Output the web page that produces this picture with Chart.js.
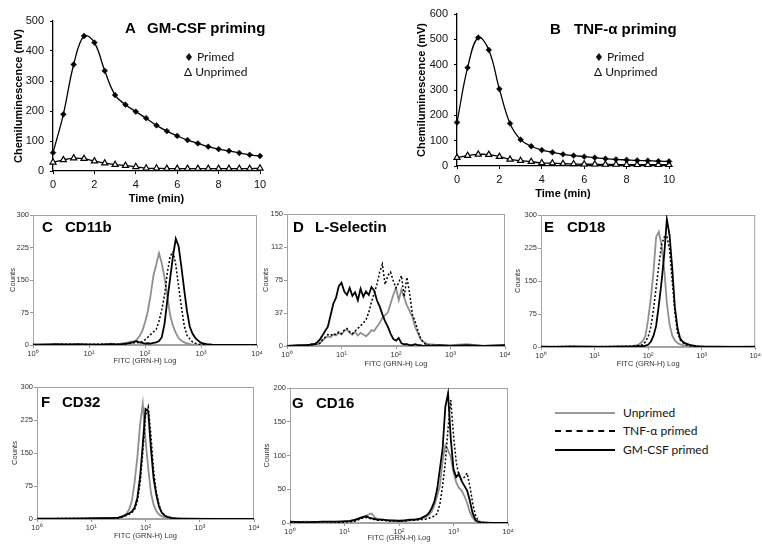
<!DOCTYPE html>
<html>
<head>
<meta charset="utf-8">
<script src="https://cdn.jsdelivr.net/npm/chart.js@4.4.0/dist/chart.umd.min.js"></script>
<style>
  body { margin: 0; background: #fff; width: 762px; height: 547px; position: relative; overflow: hidden; font-family: "Liberation Sans", Arial, sans-serif; }
  canvas { position: absolute; }
  .t { position: absolute; font-weight: bold; font-size: 15px; line-height: 1; white-space: pre; color: #000; }
  .lg { position: absolute; font-family: Lato, "Open Sans", sans-serif; font-size: 12px; line-height: 14px; white-space: pre; color: #111; }
  .lg b { font-family: "DejaVu Sans", sans-serif; font-size: 11px; font-weight: normal; }
  .ln { position: absolute; left: 555px; width: 60px; height: 0; }
</style>
</head>
<body>
<canvas id="cA"></canvas>
<canvas id="cB"></canvas>
<canvas id="cC"></canvas>
<canvas id="cD"></canvas>
<canvas id="cE"></canvas>
<canvas id="cF"></canvas>
<canvas id="cG"></canvas>

<div class="t" style="left:125px;top:20px">A</div>
<div class="t" style="left:147px;top:20px">GM-CSF priming</div>
<div class="lg" style="left:184px;top:50px"><b>♦</b> Primed</div>
<div class="lg" style="left:184px;top:65px">Δ Unprimed</div>

<div class="t" style="left:550px;top:21px">B</div>
<div class="t" style="left:574px;top:21px">TNF-α priming</div>
<div class="lg" style="left:594px;top:50px"><b>♦</b> Primed</div>
<div class="lg" style="left:594px;top:65px">Δ Unprimed</div>

<div class="t" style="left:42px;top:219px">C</div>
<div class="t" style="left:65px;top:219px">CD11b</div>
<div class="t" style="left:293px;top:219px">D</div>
<div class="t" style="left:315px;top:219px">L-Selectin</div>
<div class="t" style="left:544px;top:219px">E</div>
<div class="t" style="left:567px;top:219px">CD18</div>
<div class="t" style="left:41px;top:394px">F</div>
<div class="t" style="left:62px;top:394px">CD32</div>
<div class="t" style="left:292px;top:395px">G</div>
<div class="t" style="left:316px;top:395px">CD16</div>

<div class="ln" style="top:412px;border-top:2px solid #999"></div>
<div class="ln" style="top:430px;border-top:2px dashed #000"></div>
<div class="ln" style="top:449px;border-top:2px solid #000"></div>
<div class="lg" style="left:623px;top:406px">Unprimed</div>
<div class="lg" style="left:623px;top:424px">TNF-α primed</div>
<div class="lg" style="left:623px;top:443px">GM-CSF primed</div>

<script>
// chemiluminescence time courses (panels A, B)
const timeMin = [0, 0.5, 1, 1.5, 2, 2.5, 3, 3.5, 4, 4.5, 5, 5.5, 6, 6.5, 7, 7.5, 8, 8.5, 9, 9.5, 10];
const gmPrimed   = [61, 189, 355, 450, 428, 334, 253, 221, 198, 176, 152, 133, 117, 103, 92, 81, 73, 67, 60, 54, 50];
const gmUnprimed = [29, 37, 43, 41, 33, 26, 21, 18, 14, 9, 9, 8, 8, 8, 8, 8, 8, 8, 8, 8, 9];
const tnfPrimed   = [172, 388, 507, 458, 304, 168, 104, 78, 63, 54, 46, 41, 37, 33, 29, 26, 24, 22, 21, 19, 18];
const tnfUnprimed = [33, 41, 46, 45, 37, 26, 21, 17, 12, 11, 9, 8, 7, 7, 6, 6, 5, 5, 5, 5, 5];

// flow histograms, x given as log10 of FITC intensity
const logTicks = [1, 10, 100, 1000, 10000];
const logTickLabels = ['10⁰', '10¹', '10²', '10³', '10⁴'];

const cd11bLog = [0,0.2,0.4,0.6,0.8,1.0,1.2,1.4,1.5,1.6,1.7,1.75,1.8,1.85,1.9,1.95,2.0,2.05,2.1,2.15,2.2,2.25,2.3,2.35,2.4,2.45,2.5,2.55,2.6,2.65,2.7,2.75,2.8,2.85,2.9,2.95,3.0,3.1,3.2,3.4,3.7,4.0];
const cd11bUnprimed = [1,2,1,2,1,2,1,3,2,4,6,8,7,12,20,32,52,78,115,160,185,212,188,155,112,68,44,28,16,10,6,4,2,1,1,0,0,0,0,0,0,0];
const cd11bTnf      = [1,0,1,2,1,1,2,1,2,2,3,4,5,6,5,8,12,18,24,30,36,55,82,115,168,205,215,185,135,88,45,22,14,7,4,2,1,1,0,0,0,0];
const cd11bGm       = [1,1,2,1,2,1,1,2,1,2,4,5,7,9,6,5,3,4,3,5,6,9,18,50,105,155,205,245,228,180,128,78,42,26,16,10,5,2,1,0,0,0];

const selLog = [0,0.2,0.4,0.45,0.5,0.55,0.6,0.65,0.7,0.75,0.8,0.85,0.9,0.95,1.0,1.05,1.1,1.15,1.2,1.25,1.3,1.35,1.4,1.45,1.5,1.55,1.6,1.65,1.7,1.75,1.8,1.85,1.9,1.95,2.0,2.05,2.1,2.15,2.2,2.25,2.3,2.35,2.4,2.45,2.5,2.55,2.6,2.8,3.0,3.3,3.6,4.0];
const selUnprimed = [0,0,1,1,2,2,3,6,9,11,10,13,12,15,13,17,19,15,13,16,12,15,13,11,14,18,17,22,26,32,35,38,48,58,66,52,64,55,46,40,33,22,15,8,5,3,2,1,1,2,0,1];
const selTnf      = [0,0,1,1,2,2,3,7,10,13,12,14,13,16,14,18,20,16,14,17,20,23,26,30,38,50,60,70,84,93,70,80,84,74,66,72,80,56,78,60,36,28,18,9,4,2,1,0,0,0,0,0];
const selGm       = [0,1,1,2,2,4,7,12,17,22,35,48,55,68,72,62,58,66,57,61,52,65,56,62,58,67,63,52,45,36,28,22,14,8,6,9,3,2,2,1,1,2,1,1,0,1,0,1,0,1,0,1];

const cd18Log = [0,0.3,0.6,0.9,1.2,1.5,1.7,1.8,1.85,1.9,1.95,2.0,2.05,2.1,2.15,2.2,2.25,2.3,2.35,2.4,2.45,2.5,2.55,2.6,2.65,2.7,2.8,2.9,3.0,3.3,3.6,4.0];
const cd18Unprimed = [1,1,2,1,1,2,2,4,8,14,25,62,110,170,250,262,232,178,100,52,26,15,9,6,4,3,2,1,1,0,1,0];
const cd18Tnf      = [0,1,1,0,1,1,2,3,4,5,12,23,45,85,135,185,232,250,252,222,150,80,32,16,10,5,2,1,1,0,0,0];
const cd18Gm       = [1,0,1,1,0,1,1,2,2,2,3,5,12,25,48,95,147,209,290,255,180,90,42,19,12,8,4,2,1,1,0,1];

const cd32Log = [0,0.4,0.8,1.2,1.4,1.5,1.55,1.6,1.65,1.7,1.75,1.8,1.85,1.9,1.95,2.0,2.05,2.1,2.15,2.2,2.25,2.3,2.35,2.4,2.5,2.6,2.8,3.0,3.4,4.0];
const cd32Unprimed = [1,1,2,2,2,3,4,7,12,22,42,85,140,215,262,180,115,60,32,18,10,6,4,2,1,1,0,1,0,0];
const cd32Tnf      = [0,1,1,1,2,2,4,6,8,11,15,22,40,80,150,235,255,190,110,60,32,16,9,5,2,1,0,0,0,0];
const cd32Gm       = [1,1,1,2,2,3,5,7,10,13,17,26,48,95,170,250,245,160,92,55,28,14,8,5,2,1,1,0,0,0];

const cd16Log = [0,0.3,0.6,0.9,1.1,1.2,1.3,1.35,1.4,1.45,1.5,1.55,1.6,1.7,1.8,1.9,2.0,2.1,2.2,2.3,2.4,2.5,2.55,2.6,2.65,2.7,2.75,2.8,2.85,2.9,2.95,3.0,3.05,3.1,3.15,3.2,3.25,3.3,3.35,3.4,3.45,3.5,3.7,4.0];
const cd16Unprimed = [1,2,1,2,2,4,7,9,11,13,14,9,6,5,4,3,4,3,4,5,6,9,12,17,26,40,55,92,115,108,98,75,60,52,48,40,30,16,8,3,1,1,0,0];
const cd16Tnf      = [1,1,2,1,2,3,6,8,8,7,6,5,4,4,3,3,3,3,4,4,5,6,7,9,10,14,28,55,90,140,182,130,90,70,64,68,74,55,30,12,4,1,0,0];
const cd16Gm       = [2,1,2,2,3,5,8,9,10,8,7,6,5,5,4,4,3,4,5,5,7,11,15,22,32,50,80,110,172,192,125,80,68,73,62,55,48,33,15,5,2,1,0,0];

const FONT = '"Liberation Sans", Arial, sans-serif';

// grey frame round the histogram plot area
Chart.register({
  id: 'box',
  beforeDatasetsDraw(chart, args, opts) {
    if (!opts.on) return;
    const a = chart.chartArea, c = chart.ctx;
    c.save();
    c.strokeStyle = '#a3a3a3';
    c.lineWidth = 1;
    c.strokeRect(a.left + 0.5, a.top + 0.5, a.right - a.left - 1, a.bottom - a.top - 1);
    c.restore();
  }
});

function place(id, rect) {
  const cv = document.getElementById(id);
  cv.width = rect.w; cv.height = rect.h;
  cv.style.left = rect.l + 'px'; cv.style.top = rect.t + 'px';
  return cv;
}

function timeChart(id, rect, area, primed, unprimed, yMax, yTitlePad, xTitlePad) {
  const cv = place(id, rect);
  new Chart(cv, {
    type: 'line',
    data: {
      datasets: [
        {
          data: timeMin.map((t, i) => ({ x: t, y: primed[i] })),
          borderColor: '#000', borderWidth: 1.3, tension: 0.4, clip: false,
          pointStyle: 'rectRot', pointRadius: 2.9, pointBackgroundColor: '#000', pointBorderColor: '#000', pointBorderWidth: 0.5
        },
        {
          data: timeMin.map((t, i) => ({ x: t, y: unprimed[i] })),
          borderColor: '#000', borderWidth: 1.3, tension: 0.4, clip: false,
          pointStyle: 'triangle', pointRadius: 3.5, pointBackgroundColor: '#fff', pointBorderColor: '#000', pointBorderWidth: 1.2
        }
      ]
    },
    options: {
      responsive: false, animation: false, devicePixelRatio: 1,
      layout: { padding: { left: 0, bottom: 0, top: area.t - rect.t, right: rect.l + rect.w - area.r } },
      plugins: { legend: { display: false }, tooltip: { enabled: false } },
      scales: {
        x: {
          type: 'linear', min: 0, max: 10,
          afterFit: s => { s.height = rect.t + rect.h - area.b; },
          ticks: { stepSize: 2, font: { family: FONT, size: 11 }, color: '#111', padding: 4, maxRotation: 0 },
          grid: { drawOnChartArea: false, drawTicks: true, tickLength: 3, color: '#000' },
          border: { display: true, color: '#000', width: 1.3 },
          title: { display: true, text: 'Time (min)', font: { family: FONT, size: 11, weight: 'bold' }, color: '#000', padding: { top: 0, bottom: xTitlePad } }
        },
        y: {
          min: 0, max: yMax,
          afterFit: s => { s.width = area.l - rect.l; },
          ticks: { stepSize: 100, font: { family: FONT, size: 11 }, color: '#111', padding: 6 },
          grid: { drawOnChartArea: false, drawTicks: true, tickLength: 3, color: '#000' },
          border: { display: true, color: '#000', width: 1.3 },
          title: { display: true, text: 'Chemiluminescence (mV)', font: { family: FONT, size: 11, weight: 'bold' }, color: '#000', padding: { top: yTitlePad, bottom: 0 } }
        }
      }
    }
  });
}

function histChart(id, rect, area, logX, unprimed, tnf, gm, yMax, yStep, yTitlePad, xTitlePad) {
  const cv = place(id, rect);
  const pts = vals => logX.map((e, i) => ({ x: Math.pow(10, e), y: vals[i] }));
  new Chart(cv, {
    type: 'line',
    data: {
      datasets: [
        { data: pts(gm), borderColor: '#000', borderWidth: 1.8, pointRadius: 0, tension: 0 },
        { data: pts(tnf), borderColor: '#000', borderWidth: 1.5, borderDash: [2, 2], pointRadius: 0, tension: 0 },
        { data: pts(unprimed), borderColor: '#8f8f8f', borderWidth: 1.8, pointRadius: 0, tension: 0 }
      ]
    },
    options: {
      responsive: false, animation: false, devicePixelRatio: 1,
      layout: { padding: { left: 0, bottom: 0, top: area.t - rect.t, right: rect.l + rect.w - area.r } },
      plugins: { legend: { display: false }, tooltip: { enabled: false }, box: { on: true } },
      scales: {
        x: {
          type: 'logarithmic', min: 1, max: 10000,
          afterBuildTicks: s => { s.ticks = logTicks.map(v => ({ value: v })); },
          afterFit: s => { s.height = rect.t + rect.h - area.b; },
          ticks: { callback: (v, i) => logTickLabels[i], font: { family: FONT, size: 7.5 }, color: '#333', padding: 1, maxRotation: 0, autoSkip: false },
          grid: { drawOnChartArea: false, drawTicks: true, tickLength: 3, color: '#999' },
          border: { display: true, color: '#a3a3a3' },
          title: { display: true, text: 'FITC (GRN-H) Log', font: { family: FONT, size: 7.5 }, color: '#333', padding: { top: 0, bottom: xTitlePad } }
        },
        y: {
          min: 0, max: yMax,
          afterFit: s => { s.width = area.l - rect.l; },
          ticks: { stepSize: yStep, callback: v => Math.floor(v), font: { family: FONT, size: 7.5 }, color: '#333', padding: 1 },
          grid: { drawOnChartArea: false, drawTicks: true, tickLength: 3, color: '#999' },
          border: { display: true, color: '#a3a3a3' },
          title: { display: true, text: 'Counts', font: { family: FONT, size: 7.5 }, color: '#333', padding: { top: yTitlePad, bottom: 0 } }
        }
      }
    }
  });
}

timeChart('cA', { l: 0, t: 0, w: 285, h: 210 }, { l: 53, t: 21, r: 260, b: 171 }, gmPrimed, gmUnprimed, 500, 12.4, 4.4);
timeChart('cB', { l: 400, t: 0, w: 295, h: 210 }, { l: 457, t: 14, r: 669, b: 166 }, tnfPrimed, tnfUnprimed, 600, 15.4, 9.4);

histChart('cC', { l: 0, t: 205, w: 272, h: 165 }, { l: 33, t: 215, r: 257, b: 345 }, cd11bLog, cd11bUnprimed, cd11bTnf, cd11bGm, 300, 75, 8.5, 4.5);
histChart('cD', { l: 255, t: 205, w: 265, h: 165 }, { l: 287, t: 214, r: 505, b: 346 }, selLog, selUnprimed, selTnf, selGm, 150, 37.5, 6.5, 1.5);
histChart('cE', { l: 510, t: 205, w: 252, h: 165 }, { l: 541, t: 215, r: 756, b: 347 }, cd18Log, cd18Unprimed, cd18Tnf, cd18Gm, 300, 75, 3.5, 1.5);
histChart('cF', { l: 0, t: 380, w: 270, h: 167 }, { l: 37, t: 387, r: 254, b: 519 }, cd32Log, cd32Unprimed, cd32Tnf, cd32Gm, 300, 75, 10, 6.5);
histChart('cG', { l: 258, t: 380, w: 265, h: 167 }, { l: 290, t: 388, r: 508, b: 523 }, cd16Log, cd16Unprimed, cd16Tnf, cd16Gm, 200, 50, 4, 4.5);
</script>
</body>
</html>
